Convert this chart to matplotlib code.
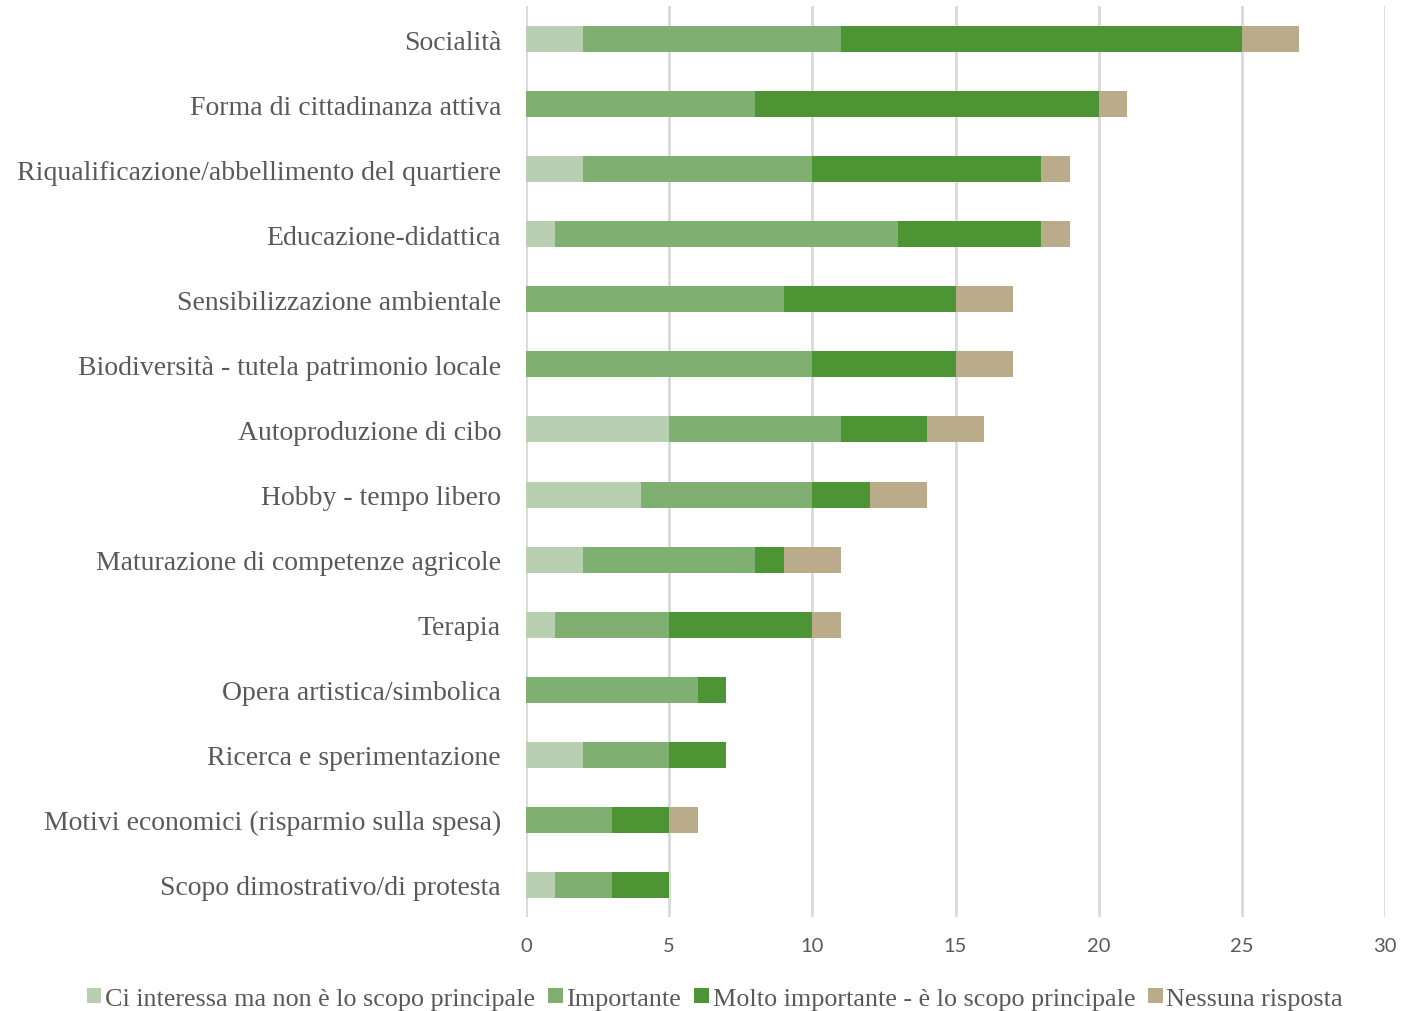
import numpy as np
import matplotlib
matplotlib.use("Agg")
import matplotlib.pyplot as plt

# categories listed bottom -> top
categories = [
    "Scopo dimostrativo/di protesta",
    "Motivi economici (risparmio sulla spesa)",
    "Ricerca e sperimentazione",
    "Opera artistica/simbolica",
    "Terapia",
    "Maturazione di competenze agricole",
    "Hobby - tempo libero",
    "Autoproduzione di cibo",
    "Biodiversità - tutela patrimonio locale",
    "Sensibilizzazione ambientale",
    "Educazione-didattica",
    "Riqualificazione/abbellimento del quartiere",
    "Forma di cittadinanza attiva",
    "Socialità",
]
interessa = [1, 0, 2, 0, 1, 2, 4, 5, 0, 0, 1, 2, 0, 2]
importante = [2, 3, 3, 6, 4, 6, 6, 6, 10, 9, 12, 8, 8, 9]
molto_importante = [2, 2, 2, 1, 5, 1, 2, 3, 5, 6, 5, 8, 12, 14]
nessuna = [0, 1, 0, 0, 1, 2, 2, 2, 2, 2, 1, 1, 1, 2]

series_names = [
    "Ci interessa ma non è lo scopo principale",
    "Importante",
    "Molto importante - è lo scopo principale",
    "Nessuna risposta",
]
colors = ["#B8CFB2", "#7FB072", "#4D9434", "#BAAC8A"]

plt.rcParams['font.family'] = ['Liberation Serif', 'DejaVu Serif']

fig = plt.figure(figsize=(14.02, 10.12), dpi=100)
ax = fig.add_axes([0.3752, 0.0924, 0.6127, 0.9002])

y = np.arange(len(categories))
left = np.zeros(len(categories))
for vals, name, col in zip([interessa, importante, molto_importante, nessuna], series_names, colors):
    vals = np.array(vals, dtype=float)
    ax.barh(y, vals, left=left, height=0.4, color=col, label=name, zorder=3)
    left += vals

ax.set_xlim(0, 30)
ax.set_ylim(-0.5, len(categories) - 0.5)
ax.set_xticks(range(0, 31, 5))
ax.set_yticks(y)
ax.set_yticklabels(categories, fontsize=20, color="#595959")
for lbl in ax.get_xticklabels():
    lbl.set_fontfamily("Lato")
    lbl.set_fontsize(14.5)
    lbl.set_color("#595959")
ax.tick_params(axis='both', length=0)
ax.tick_params(axis='y', pad=18)
ax.tick_params(axis='x', pad=14)
ax.grid(axis='x', color="#D9D9D9", linewidth=2, zorder=0)
for s in ax.spines.values():
    s.set_visible(False)

leg = fig.legend(loc="lower center", bbox_to_anchor=(0.51, -0.022), ncol=4, frameon=False,
                 fontsize=18.8, handlelength=0.55, handleheight=0.55, handletextpad=0.15,
                 columnspacing=0.5, labelcolor="#595959")

fig.savefig("out.png", dpi=100)
